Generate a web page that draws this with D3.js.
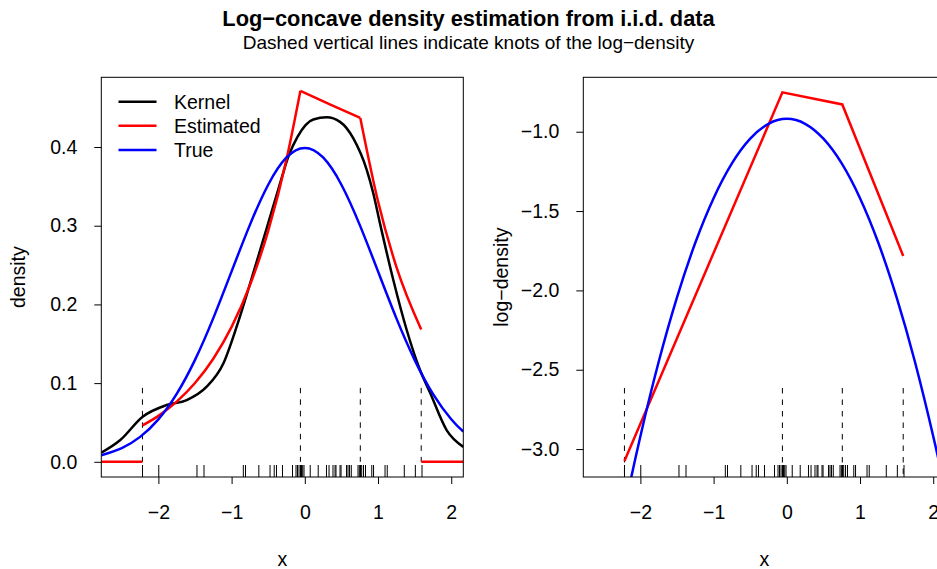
<!DOCTYPE html>
<html>
<head>
<meta charset="utf-8">
<script src="https://cdn.jsdelivr.net/npm/d3@7"></script>
<style>
  html, body { margin: 0; padding: 0; background: #fff; }
  svg { display: block; }
  text { font-family: "Liberation Sans", Arial, Helvetica, sans-serif; fill: #000; }
</style>
</head>
<body>
<svg id="chart" width="937" height="569"></svg>
<script>
// ---------------- data ----------------
const titleText = "Log\u2212concave density estimation from i.i.d. data";
const subtitleText = "Dashed vertical lines indicate knots of the log\u2212density";

const xTicks = [-2, -1, 0, 1, 2];
const densityTicks = [0.0, 0.1, 0.2, 0.3, 0.4];
const logDensityTicks = [-3.0, -2.5, -2.0, -1.5, -1.0];

// observations (rug)
const sample = [-2.217, -1.995, -1.473, -1.377, -0.840, -0.810, -0.628, -0.475, -0.418, -0.387,
  -0.305, -0.168, -0.120, -0.100, -0.079, -0.059, -0.045, -0.029, -0.011, 0.074,
  0.183, 0.296, 0.331, 0.385, 0.413, 0.426, 0.481, 0.495, 0.570, 0.590,
  0.611, 0.635, 0.727, 0.745, 0.761, 0.777, 0.802, 0.829, 0.915, 0.939,
  1.096, 1.126, 1.359, 1.510, 1.601];

// knots of the estimated log-density
const knots = [-2.218, -0.06, 0.758, 1.59];
const knotLogDensity = [-3.075, -0.752, -0.828, -1.783];

// kernel density estimate (black)
const kernelX = [-2.78, -2.52, -2.215, -1.887, -1.613, -1.34, -1.113, -0.93, -0.749, -0.52,
  -0.35, -0.216, -0.1, 0.116, 0.3, 0.481, 0.663, 0.846, 0.936, 1.027,
  1.209, 1.392, 1.574, 1.71, 1.939, 2.165];
const kernelY = [0.0116, 0.0277, 0.0573, 0.0722, 0.0785, 0.0955, 0.125, 0.172, 0.226, 0.297,
  0.350, 0.390, 0.413, 0.435, 0.4377, 0.432, 0.411, 0.371, 0.341, 0.303,
  0.231, 0.1675, 0.1166, 0.088, 0.040, 0.019];

// estimated density (red), one piece between each pair of knots
const estPieceX = [
  [-2.218, -2.0, -1.75, -1.5, -1.25, -1.0, -0.75, -0.5, -0.25, -0.06],
  [-0.06, 0.35, 0.758],
  [0.758, 1.0, 1.25, 1.59]
];
const estPieceY = [
  [0.0462, 0.0584, 0.0765, 0.1001, 0.1310, 0.1714, 0.2243, 0.2935, 0.3843, 0.4714],
  [0.4714, 0.454, 0.437],
  [0.437, 0.331, 0.248, 0.168]
];
// estimated density is zero outside the knots
const estZeroLeft = [-2.78, -2.218];
const estZeroRight = [1.59, 2.165];

// true density (blue)
const trueX = [-2.78, -2.5, -2.25, -2.0, -1.75, -1.5, -1.25, -1.0, -0.75, -0.5, -0.25, 0,
  0.25, 0.5, 0.75, 1.0, 1.25, 1.5, 1.75, 2.0, 2.165];
const trueY = [0.0084, 0.0175, 0.0317, 0.0540, 0.0863, 0.1295, 0.1826, 0.2420, 0.3011, 0.3521, 0.3867, 0.3989,
  0.3867, 0.3521, 0.3011, 0.2420, 0.1826, 0.1295, 0.0863, 0.0540, 0.0383];
const trueLogY = [-4.783, -4.044, -3.450, -2.919, -2.450, -2.044, -1.700, -1.419, -1.200, -1.044, -0.950, -0.919,
  -0.950, -1.044, -1.200, -1.419, -1.700, -2.044, -2.450, -2.919, -3.263];

// knot marker extents (value range of each dashed segment)
const knotSegDensity = [0.094, 0];
const knotSegLog = [-2.615, -3.35];

const legendLabels = ["Kernel", "Estimated", "True"];
const legendColors = ["#000000", "#ff0000", "#0000ff"];

// ---------------- layout ----------------
const svg = d3.select("#chart");
const FONT = 19.5;
const LW = 2.5;
const plotTop = 77.3, plotBottom = 477;
const panels = [
  { left: 101.3, right: 463.3, ydom: [-0.0193, 0.4886], ylab: "density", ylabX: 25, ticks: densityTicks },
  { left: 583.3, right: 945.3, ydom: [-3.176, -0.657], ylab: "log\u2212density", ylabX: 508, ticks: logDensityTicks }
];
const xdom = [-2.78, 2.165];

// titles
svg.append("text").attr("x", 468.5).attr("y", 26).attr("text-anchor", "middle")
  .style("font-size", "21.8px").style("font-weight", "bold").text(titleText);
svg.append("text").attr("x", 468.5).attr("y", 49).attr("text-anchor", "middle")
  .style("font-size", "19px").text(subtitleText);

panels.forEach((p, i) => {
  const x = d3.scaleLinear().domain(xdom).range([p.left, p.right]);
  const y = d3.scaleLinear().domain(p.ydom).range([plotBottom, plotTop]);
  const g = svg.append("g");
  const clipId = "clip" + i;
  g.append("clipPath").attr("id", clipId).append("rect")
    .attr("x", p.left).attr("y", plotTop).attr("width", p.right - p.left).attr("height", plotBottom - plotTop);
  const plot = g.append("g").attr("clip-path", `url(#${clipId})`);

  const line = d3.line().x(d => x(d[0])).y(d => y(d[1]));
  const smooth = d3.line().x(d => x(d[0])).y(d => y(d[1])).curve(d3.curveMonotoneX);
  const natural = d3.line().x(d => x(d[0])).y(d => y(d[1])).curve(d3.curveNatural);

  // knot markers
  const segVals = i === 0 ? knotSegDensity : knotSegLog;
  knots.forEach(k => {
    plot.append("line")
      .attr("x1", x(k)).attr("x2", x(k))
      .attr("y1", y(segVals[0])).attr("y2", y(segVals[1]))
      .attr("stroke", "#000").attr("stroke-width", 1)
      .attr("stroke-dasharray", "5.5,6");
  });

  if (i === 0) {
    plot.append("path").datum(kernelX.map((v, j) => [v, kernelY[j]]))
      .attr("d", smooth).attr("fill", "none").attr("stroke", "#000").attr("stroke-width", LW);
    estPieceX.forEach((px, j) => {
      plot.append("path").datum(px.map((v, m) => [v, estPieceY[j][m]]))
        .attr("d", smooth).attr("fill", "none").attr("stroke", "#ff0000").attr("stroke-width", LW);
    });
    [estZeroLeft, estZeroRight].forEach(seg => {
      plot.append("path").datum(seg.map(v => [v, 0]))
        .attr("d", line).attr("fill", "none").attr("stroke", "#ff0000").attr("stroke-width", LW);
    });
    plot.append("path").datum(trueX.map((v, j) => [v, trueY[j]]))
      .attr("d", natural).attr("fill", "none").attr("stroke", "#0000ff").attr("stroke-width", LW);
  } else {
    plot.append("path").datum(knots.map((v, j) => [v, knotLogDensity[j]]))
      .attr("d", line).attr("fill", "none").attr("stroke", "#ff0000").attr("stroke-width", LW);
    plot.append("path").datum(trueX.map((v, j) => [v, trueLogY[j]]))
      .attr("d", natural).attr("fill", "none").attr("stroke", "#0000ff").attr("stroke-width", LW);
  }

  // rug
  plot.selectAll(".rug").data(sample).enter().append("line")
    .attr("x1", d => x(d)).attr("x2", d => x(d))
    .attr("y1", plotBottom).attr("y2", plotBottom - 12)
    .attr("stroke", "#000").attr("stroke-width", 1);

  // box
  g.append("rect").attr("x", p.left).attr("y", plotTop)
    .attr("width", p.right - p.left).attr("height", plotBottom - plotTop)
    .attr("fill", "none").attr("stroke", "#000").attr("stroke-width", 1);

  // axes
  const xa = g.append("g").attr("transform", `translate(0,${plotBottom})`)
    .call(d3.axisBottom(x).tickValues(xTicks).tickSize(7).tickPadding(21).tickFormat(d3.format("d")));
  xa.select(".domain").remove();
  xa.attr("font-family", null).attr("font-size", null);
  xa.selectAll("text").style("font-size", FONT + "px");
  xa.selectAll("line").attr("stroke", "#000");

  const ya = g.append("g").attr("transform", `translate(${p.left},0)`)
    .call(d3.axisLeft(y).tickValues(p.ticks).tickSize(7).tickPadding(17).tickFormat(d3.format(".1f")));
  ya.select(".domain").remove();
  ya.attr("font-family", null).attr("font-size", null);
  ya.selectAll("text").style("font-size", FONT + "px");
  ya.selectAll("line").attr("stroke", "#000");

  // axis titles
  svg.append("text").attr("x", (p.left + p.right) / 2).attr("y", 566).attr("text-anchor", "middle")
    .style("font-size", FONT + "px").text("x");
  svg.append("text").attr("transform", `translate(${p.ylabX},${(plotTop + plotBottom) / 2}) rotate(-90)`)
    .attr("text-anchor", "middle").style("font-size", FONT + "px").text(p.ylab);

  if (i === 0) {
    const ly = [101.7, 125.7, 150];
    legendLabels.forEach((lab, j) => {
      g.append("line").attr("x1", 118.5).attr("x2", 156.5).attr("y1", ly[j]).attr("y2", ly[j])
        .attr("stroke", legendColors[j]).attr("stroke-width", LW);
      g.append("text").attr("x", 174).attr("y", ly[j]).attr("dy", "0.35em")
        .style("font-size", FONT + "px").text(lab);
    });
  }
});
</script>
</body>
</html>
